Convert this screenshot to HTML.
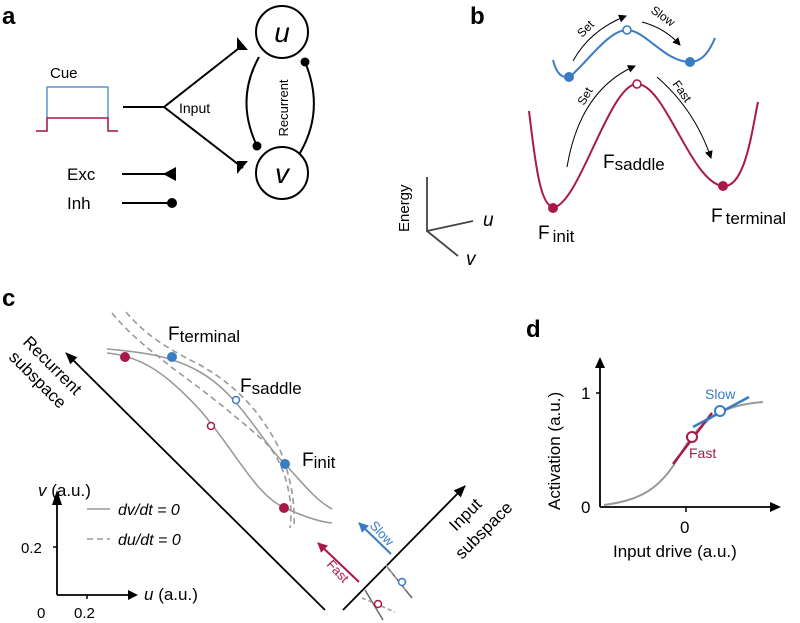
<!DOCTYPE html>
<html><head><style>body{margin:0;background:#fff}svg{display:block}text{font-family:"Liberation Sans",sans-serif}</style></head><body>
<svg width="800" height="623" viewBox="0 0 800 623" xmlns="http://www.w3.org/2000/svg">
<defs>
<marker id="ar" markerWidth="8" markerHeight="8" refX="7" refY="4" orient="auto" markerUnits="userSpaceOnUse"><path d="M0,0 L8,4 L0,8 z" fill="#000"/></marker>
<marker id="arb" markerWidth="10" markerHeight="10" refX="9" refY="5" orient="auto" markerUnits="userSpaceOnUse"><path d="M0,0 L10,5 L0,10 z" fill="#3a7cc4"/></marker>
<marker id="arr" markerWidth="10" markerHeight="10" refX="9" refY="5" orient="auto" markerUnits="userSpaceOnUse"><path d="M0,0 L10,5 L0,10 z" fill="#a8194a"/></marker>
<marker id="ark" markerWidth="12" markerHeight="10" refX="11" refY="5" orient="auto" markerUnits="userSpaceOnUse"><path d="M0,0 L12,5 L0,10 z" fill="#000"/></marker>
</defs>
<g font-weight="bold" font-size="24"><text x="2" y="24">a</text><text x="470" y="24">b</text><text x="2" y="306">c</text><text x="526" y="337">d</text></g>

<!-- panel a -->
<text x="50" y="78" font-size="15">Cue</text>
<path d="M36,131 H47 V87 H108 V131 H118" fill="none" stroke="#3a7cc4" stroke-width="1.2"/>
<path d="M36,131 H47 V118 H108 V131 H118" fill="none" stroke="#a8194a" stroke-width="1.5"/>
<path d="M123,107 H164 L243,45 M164,107 L243,168" fill="none" stroke="#000" stroke-width="2"/>
<path d="M237,37 L248,50 L237,50 z M237,174 L248,161 L237,161 z" fill="#000"/>
<text x="179" y="113" font-size="14">Input</text>
<circle cx="282" cy="32" r="26" fill="none" stroke="#000" stroke-width="2"/>
<circle cx="282" cy="173" r="26" fill="none" stroke="#000" stroke-width="2"/>
<text x="282" y="42" font-size="28" font-style="italic" text-anchor="middle">u</text>
<text x="282" y="183" font-size="28" font-style="italic" text-anchor="middle">v</text>
<path d="M259,57 Q235,100 257,146" fill="none" stroke="#000" stroke-width="2"/>
<circle cx="257" cy="146" r="4.5"/>
<path d="M305,62 Q325,110 300,153" fill="none" stroke="#000" stroke-width="2"/>
<circle cx="305" cy="62" r="4.5"/>
<text transform="translate(288,108) rotate(-90)" font-size="13" text-anchor="middle">Recurrent</text>
<text x="67" y="180" font-size="17">Exc</text>
<text x="67" y="209" font-size="17">Inh</text>
<path d="M122,174 H172 M122,203 H172" stroke="#000" stroke-width="2"/>
<path d="M176,167 L176,181 L163,174 z" fill="#000"/>
<circle cx="172" cy="203" r="5"/>

<!-- panel b -->
<path d="M553,60 C558,80 568,80 575,72 C590,58 610,30 627,30 C645,30 665,62 690,62 C705,62 712,45 715,38" fill="none" stroke="#3a7cc4" stroke-width="2"/>
<path d="M529,111 C535,160 540,210 555,207 C580,200 610,84 637,84 C665,84 690,180 722,186 C745,190 752,130 758,102" fill="none" stroke="#a8194a" stroke-width="2"/>
<circle cx="569" cy="77" r="5" fill="#3a7cc4"/><circle cx="690" cy="62" r="5" fill="#3a7cc4"/>
<circle cx="627" cy="30" r="4" fill="#fff" stroke="#3a7cc4" stroke-width="1.6"/>
<circle cx="553" cy="208" r="5" fill="#a8194a"/><circle cx="723" cy="186" r="5" fill="#a8194a"/>
<circle cx="637" cy="84" r="4" fill="#fff" stroke="#a8194a" stroke-width="1.6"/>
<path d="M573,61 Q590,30 626,16" fill="none" stroke="#000" stroke-width="1" marker-end="url(#ar)"/>
<path d="M642,22 Q665,28 680,45" fill="none" stroke="#000" stroke-width="1" marker-end="url(#ar)"/>
<path d="M567,167 Q580,90 635,66" fill="none" stroke="#000" stroke-width="1" marker-end="url(#ar)"/>
<path d="M657,77 Q695,110 711,158" fill="none" stroke="#000" stroke-width="1" marker-end="url(#ar)"/>
<text transform="translate(582,38) rotate(-45)" font-size="12">Set</text>
<text transform="translate(650,12) rotate(35)" font-size="12">Slow</text>
<text transform="translate(584,106) rotate(-60)" font-size="12">Set</text>
<text transform="translate(672,84) rotate(55)" font-size="12">Fast</text>
<text x="603" y="168" font-size="19">F<tspan font-size="17" dy="2">saddle</tspan></text>
<text x="538" y="239" font-size="19">F<tspan font-size="17" dy="3" dx="3">init</tspan></text>
<text x="711" y="222" font-size="19">F<tspan font-size="17" dy="2" dx="3">terminal</tspan></text>
<path d="M427,177 V231 L473,221 M427,231 L458,256" fill="none" stroke="#444" stroke-width="1.8"/>
<text transform="translate(409,232) rotate(-90)" font-size="15">Energy</text>
<text x="483" y="226" font-size="19" font-style="italic">u</text>
<text x="466" y="265" font-size="19" font-style="italic">v</text>

<!-- panel c -->
<path d="M325,610 L66,353" stroke="#000" stroke-width="1.8" fill="none" marker-end="url(#ark)"/>
<path d="M343,610 L465,486" stroke="#000" stroke-width="1.8" fill="none" marker-end="url(#ark)"/>
<text transform="translate(22,343) rotate(45)" font-size="17">Recurrent</text>
<text transform="translate(8,358) rotate(45)" font-size="17">subspace</text>
<text transform="translate(456,532) rotate(-45)" font-size="17">Input</text>
<text transform="translate(462,560) rotate(-45)" font-size="17">subspace</text>
<g fill="none" stroke="#999" stroke-width="1.6">
<path d="M107,349 C140,352 170,355 200,372 C240,395 260,440 285,464 C300,480 315,500 332,509"/>
<path d="M107,353 C140,356 165,372 200,410 C235,450 255,495 285,508 C305,517 320,522 332,523"/>
<path d="M112,313 C130,335 150,350 175,370 C210,395 240,420 265,442 C285,462 294,500 290,528" stroke-dasharray="6,4"/>
<path d="M126,312 C145,335 170,350 200,365 C235,385 260,410 280,450 C292,480 295,505 294,528" stroke-dasharray="6,4"/>
</g>
<circle cx="125" cy="357" r="5" fill="#a8194a"/><circle cx="172" cy="357" r="5" fill="#3a7cc4"/>
<circle cx="236" cy="400" r="3.5" fill="#fff" stroke="#3a7cc4" stroke-width="1.5"/>
<circle cx="211" cy="426" r="3.5" fill="#fff" stroke="#a8194a" stroke-width="1.5"/>
<circle cx="285" cy="464" r="5" fill="#3a7cc4"/><circle cx="284" cy="508" r="5" fill="#a8194a"/>
<text x="168" y="340" font-size="19">F<tspan font-size="17" dy="2">terminal</tspan></text>
<text x="240" y="392" font-size="19">F<tspan font-size="17" dy="2">saddle</tspan></text>
<text x="302" y="466" font-size="19">F<tspan font-size="17" dy="2">init</tspan></text>
<path d="M57,595 V505 M57,595 H133" stroke="#000" stroke-width="1.8" fill="none"/>
<path d="M52,505 L57,490 L62,505 z M128,590 L138,595 L128,600 z" fill="#000"/>
<path d="M53,547 H57 M87,595 V599" stroke="#000" stroke-width="1.5"/>
<text x="38" y="496" font-size="17"><tspan font-style="italic">v</tspan> (a.u.)</text>
<text x="144" y="600" font-size="17"><tspan font-style="italic">u</tspan> (a.u.)</text>
<text x="21" y="553" font-size="15">0.2</text>
<text x="37" y="618" font-size="15">0</text><text x="74" y="618" font-size="15">0.2</text>
<path d="M87,509 H110" stroke="#999" stroke-width="1.6"/>
<path d="M87,539 H110" stroke="#999" stroke-width="1.6" stroke-dasharray="6,4"/>
<text x="118" y="515" font-size="16" font-style="italic">dv/dt = 0</text>
<text x="118" y="545" font-size="16" font-style="italic">du/dt = 0</text>
<path d="M359,582 L318,543" stroke="#a8194a" stroke-width="2" marker-end="url(#arr)"/>
<path d="M391,554 L359,523" stroke="#3a7cc4" stroke-width="2" marker-end="url(#arb)"/>
<text transform="translate(326,565) rotate(47)" font-size="13" fill="#a8194a">Fast</text>
<text transform="translate(369,526) rotate(47)" font-size="13" fill="#3a7cc4">Slow</text>
<path d="M365,590 L383,620 M388,568 L412,598" stroke="#666" stroke-width="1.5"/>
<path d="M362,598 L395,612 M386,565 L406,591" stroke="#999" stroke-width="1.5" stroke-dasharray="4,3"/>
<circle cx="378" cy="604" r="3.5" fill="#fff" stroke="#a8194a" stroke-width="1.5"/>
<circle cx="402" cy="582" r="3.5" fill="#fff" stroke="#3a7cc4" stroke-width="1.5"/>

<!-- panel d -->
<path d="M600,507 V368 M600,507 H770" stroke="#000" stroke-width="1.8" fill="none"/>
<path d="M595,368 L600,357 L605,368 z M770,502 L781,507 L770,512 z" fill="#000"/>
<path d="M596,393 H600 M686,507 V512" stroke="#000" stroke-width="1.5"/>
<text x="581" y="399" font-size="17">1</text><text x="581" y="513" font-size="17">0</text>
<text x="680" y="533" font-size="17">0</text>
<text x="613" y="557" font-size="17">Input drive (a.u.)</text>
<text transform="translate(560,510) rotate(-90)" font-size="17">Activation (a.u.)</text>
<path d="M604,505 C640,500 660,490 680,455 C700,420 720,405 763,402" fill="none" stroke="#999" stroke-width="2"/>
<path d="M673,464 L712,413" stroke="#a8194a" stroke-width="2.5"/>
<path d="M693,427 L749,397" stroke="#3a7cc4" stroke-width="2.5"/>
<circle cx="692" cy="437" r="5" fill="#fff" stroke="#a8194a" stroke-width="2"/>
<circle cx="720" cy="411" r="5" fill="#fff" stroke="#3a7cc4" stroke-width="2"/>
<text x="705" y="399" font-size="14" fill="#3a7cc4">Slow</text>
<text x="689" y="458" font-size="14" fill="#a8194a">Fast</text>
</svg>
</body></html>
